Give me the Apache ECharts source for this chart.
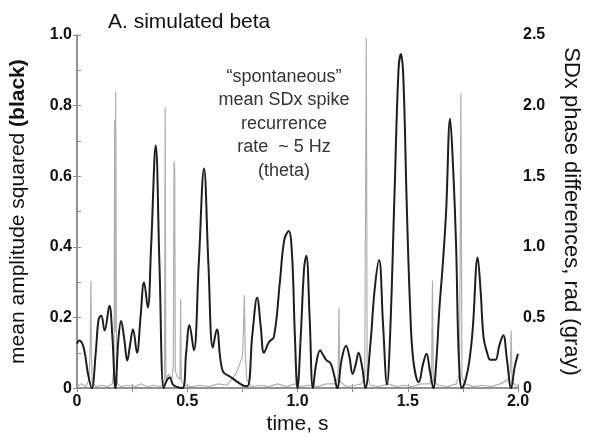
<!DOCTYPE html>
<html>
<head>
<meta charset="utf-8">
<script src="https://cdn.jsdelivr.net/npm/echarts@6/dist/echarts.min.js"></script>
<style>
    html, body { margin: 0; padding: 0; background: #fff; }
    #chart { width: 590px; height: 440px; }
</style>
</head>
<body>
<div id="chart"></div>
<script>
    // 平均振幅平方（黑线，左轴）
    var blackTime = [0.000, 0.010, 0.030, 0.050, 0.067, 0.085, 0.098, 0.110, 0.125, 0.147, 0.160, 0.174, 0.188, 0.200, 0.214, 0.228, 0.240, 0.254, 0.272, 0.288, 0.304, 0.321, 0.336, 0.357, 0.374, 0.393, 0.406, 0.420, 0.435, 0.446, 0.478, 0.495, 0.510, 0.530, 0.552, 0.576, 0.596, 0.616, 0.634, 0.660, 0.700, 0.746, 0.772, 0.795, 0.817, 0.834, 0.848, 0.870, 0.893, 0.920, 0.940, 0.960, 0.975, 0.988, 1.000, 1.015, 1.030, 1.040, 1.055, 1.070, 1.085, 1.103, 1.115, 1.130, 1.150, 1.165, 1.180, 1.200, 1.220, 1.235, 1.250, 1.265, 1.277, 1.293, 1.308, 1.330, 1.350, 1.370, 1.388, 1.406, 1.420, 1.440, 1.458, 1.469, 1.480, 1.495, 1.510, 1.525, 1.550, 1.570, 1.585, 1.600, 1.616, 1.630, 1.643, 1.660, 1.674, 1.692, 1.706, 1.719, 1.732, 1.746, 1.763, 1.780, 1.795, 1.817, 1.830, 1.844, 1.860, 1.875, 1.897, 1.915, 1.933, 1.950, 1.969, 1.985, 2.000];
    var blackValue = [0.125, 0.135, 0.115, 0.040, 0.000, 0.100, 0.195, 0.205, 0.163, 0.233, 0.150, 0.000, 0.140, 0.190, 0.140, 0.078, 0.120, 0.167, 0.100, 0.200, 0.300, 0.228, 0.400, 0.687, 0.350, 0.000, 0.020, 0.030, 0.010, 0.005, 0.000, 0.100, 0.178, 0.107, 0.350, 0.622, 0.350, 0.115, 0.166, 0.050, 0.030, 0.010, 0.005, 0.150, 0.256, 0.170, 0.100, 0.130, 0.145, 0.300, 0.420, 0.445, 0.380, 0.150, 0.000, 0.150, 0.340, 0.375, 0.200, 0.000, 0.070, 0.107, 0.095, 0.080, 0.070, 0.040, 0.000, 0.080, 0.120, 0.090, 0.040, 0.070, 0.100, 0.060, 0.000, 0.120, 0.280, 0.363, 0.180, 0.010, 0.150, 0.550, 0.900, 0.946, 0.880, 0.530, 0.240, 0.080, 0.017, 0.070, 0.097, 0.050, 0.000, 0.080, 0.220, 0.360, 0.500, 0.763, 0.620, 0.410, 0.080, 0.000, 0.025, 0.080, 0.170, 0.370, 0.280, 0.143, 0.100, 0.080, 0.080, 0.120, 0.150, 0.080, 0.000, 0.060, 0.097];

    // SDx 相位差（灰线，右轴）
    var grayTime = [0.000, 0.020, 0.040, 0.055, 0.060, 0.063, 0.066, 0.070, 0.090, 0.110, 0.140, 0.160, 0.168, 0.171, 0.173, 0.175, 0.177, 0.179, 0.183, 0.200, 0.230, 0.260, 0.290, 0.320, 0.350, 0.380, 0.393, 0.397, 0.400, 0.403, 0.415, 0.430, 0.437, 0.440, 0.443, 0.446, 0.455, 0.467, 0.470, 0.473, 0.490, 0.520, 0.560, 0.600, 0.640, 0.680, 0.700, 0.720, 0.735, 0.750, 0.755, 0.759, 0.763, 0.770, 0.790, 0.830, 0.870, 0.910, 0.950, 0.990, 1.010, 1.050, 1.090, 1.130, 1.170, 1.184, 1.188, 1.192, 1.220, 1.260, 1.290, 1.305, 1.312, 1.316, 1.330, 1.370, 1.410, 1.450, 1.480, 1.520, 1.560, 1.600, 1.608, 1.612, 1.616, 1.640, 1.680, 1.720, 1.735, 1.741, 1.746, 1.760, 1.800, 1.840, 1.880, 1.920, 1.955, 1.965, 1.969, 1.973, 2.000];
    var grayValue = [0.01, 0.03, 0.01, 0.06, 0.30, 0.76, 0.20, 0.03, 0.01, 0.02, 0.01, 0.03, 0.15, 1.90, 0.40, 2.10, 1.50, 0.08, 0.03, 0.01, 0.02, 0.01, 0.03, 0.01, 0.02, 0.01, 0.03, 0.08, 1.99, 0.06, 0.10, 0.06, 0.15, 1.61, 1.55, 0.12, 0.08, 0.06, 0.63, 0.05, 0.02, 0.01, 0.02, 0.01, 0.03, 0.02, 0.06, 0.10, 0.16, 0.22, 0.40, 0.66, 0.25, 0.06, 0.01, 0.02, 0.01, 0.03, 0.01, 0.03, 0.01, 0.02, 0.01, 0.03, 0.03, 0.08, 0.57, 0.05, 0.01, 0.02, 0.03, 0.08, 2.48, 0.10, 0.02, 0.01, 0.03, 0.01, 0.02, 0.01, 0.03, 0.03, 0.08, 0.76, 0.05, 0.02, 0.01, 0.03, 0.10, 2.09, 0.08, 0.03, 0.01, 0.02, 0.01, 0.03, 0.06, 0.12, 0.41, 0.04, 0.01];

    var annotationLines = ['\u201cspontaneous\u201d', 'mean SDx spike', 'recurrence', 'rate  ~ 5 Hz', '(theta)'];

    var blackData = blackTime.map(function (t, i) { return [t, blackValue[i]]; });
    var grayData = grayTime.map(function (t, i) { return [t, grayValue[i]]; });

    var frameColor = '#8c8c8c';
    var fontFamily = 'Liberation Sans, Arial, Helvetica, sans-serif';

    var myEcharts = echarts.init(document.getElementById('chart'));
    myEcharts.setOption({
        animation: false,
        title: {
            text: 'A. simulated beta',
            left: 103,
            top: 7,
            textStyle: { fontFamily: fontFamily, fontSize: 21, fontWeight: 'normal', color: '#111' }
        },
        grid: { left: 74, right: 67, top: 35, bottom: 48, show: false },
        graphic: [{
            type: 'text',
            x: 284,
            y: 65,
            style: {
                text: annotationLines.join('\n'),
                textAlign: 'center',
                fontFamily: fontFamily,
                fontSize: 18,
                lineHeight: 23.5,
                fill: '#333'
            }
        }],
        xAxis: [{
            type: 'value',
            min: 0,
            max: 2,
            interval: 0.5,
            position: 'bottom',
            name: 'time, s',
            nameLocation: 'middle',
            nameGap: 22,
            nameTextStyle: { fontFamily: fontFamily, fontSize: 21, color: '#111' },
            axisLine: { show: true, lineStyle: { color: frameColor, width: 1.5 } },
            axisTick: { show: true, inside: true, length: 4, lineStyle: { color: frameColor } },
            minorTick: { show: true, splitNumber: 2, length: 4, lineStyle: { color: frameColor } },
            splitLine: { show: false },
            axisLabel: {
                fontFamily: fontFamily, fontSize: 16, fontWeight: 'bold', color: '#111', margin: 5,
                formatter: function (v) { return v === 0 ? '0' : v.toFixed(1); }
            }
        }, {
            type: 'value',
            min: 0,
            max: 2,
            interval: 0.5,
            position: 'top',
            axisLine: { show: true, lineStyle: { color: frameColor, width: 1.5 } },
            axisTick: { show: true, inside: true, length: 4, lineStyle: { color: frameColor } },
            minorTick: { show: true, splitNumber: 2, length: 4, lineStyle: { color: frameColor } },
            splitLine: { show: false },
            axisLabel: { show: false }
        }],
        yAxis: [{
            type: 'value',
            min: 0,
            max: 1,
            interval: 0.2,
            position: 'left',
            name: '{a|mean amplitude squared }{b|(black)}',
            nameLocation: 'middle',
            nameGap: 48,
            nameTextStyle: {
                rich: {
                    a: { fontFamily: fontFamily, fontSize: 21, color: '#111' },
                    b: { fontFamily: fontFamily, fontSize: 21, fontWeight: 'bold', color: '#111' }
                }
            },
            axisLine: { show: true, lineStyle: { color: frameColor, width: 1.5 } },
            axisTick: { show: true, inside: false, length: 4, lineStyle: { color: frameColor } },
            splitLine: { show: false },
            axisLabel: {
                fontFamily: fontFamily, fontSize: 16, fontWeight: 'bold', color: '#111', margin: 5,
                formatter: function (v) { return v === 0 ? '0' : v.toFixed(1); }
            }
        }, {
            type: 'value',
            min: 0,
            max: 2.5,
            interval: 0.5,
            position: 'right',
            name: 'SDx phase differences, rad (gray)',
            nameLocation: 'middle',
            nameRotate: -90,
            nameGap: 42,
            nameTextStyle: { fontFamily: fontFamily, fontSize: 22, color: '#111' },
            axisLine: { show: true, lineStyle: { color: frameColor, width: 1.5 } },
            axisTick: { show: true, inside: false, length: 4, lineStyle: { color: frameColor } },
            minorTick: { show: true, splitNumber: 2, length: 4, lineStyle: { color: frameColor } },
            splitLine: { show: false },
            axisLabel: {
                fontFamily: fontFamily, fontSize: 16, fontWeight: 'bold', color: '#111', margin: 5,
                formatter: function (v) { return v === 0 ? '0' : v.toFixed(1); }
            }
        }],
        series: [{
            name: 'SDx phase differences',
            type: 'line',
            xAxisIndex: 0,
            yAxisIndex: 1,
            data: grayData,
            showSymbol: false,
            lineStyle: { color: '#b0b0b0', width: 1.2 },
            z: 2
        }, {
            name: 'mean amplitude squared',
            type: 'line',
            xAxisIndex: 0,
            yAxisIndex: 0,
            data: blackData,
            smooth: 0.4,
            showSymbol: false,
            lineStyle: { color: '#1e1e1e', width: 2 },
            z: 3
        }]
    });
</script>
</body>
</html>
